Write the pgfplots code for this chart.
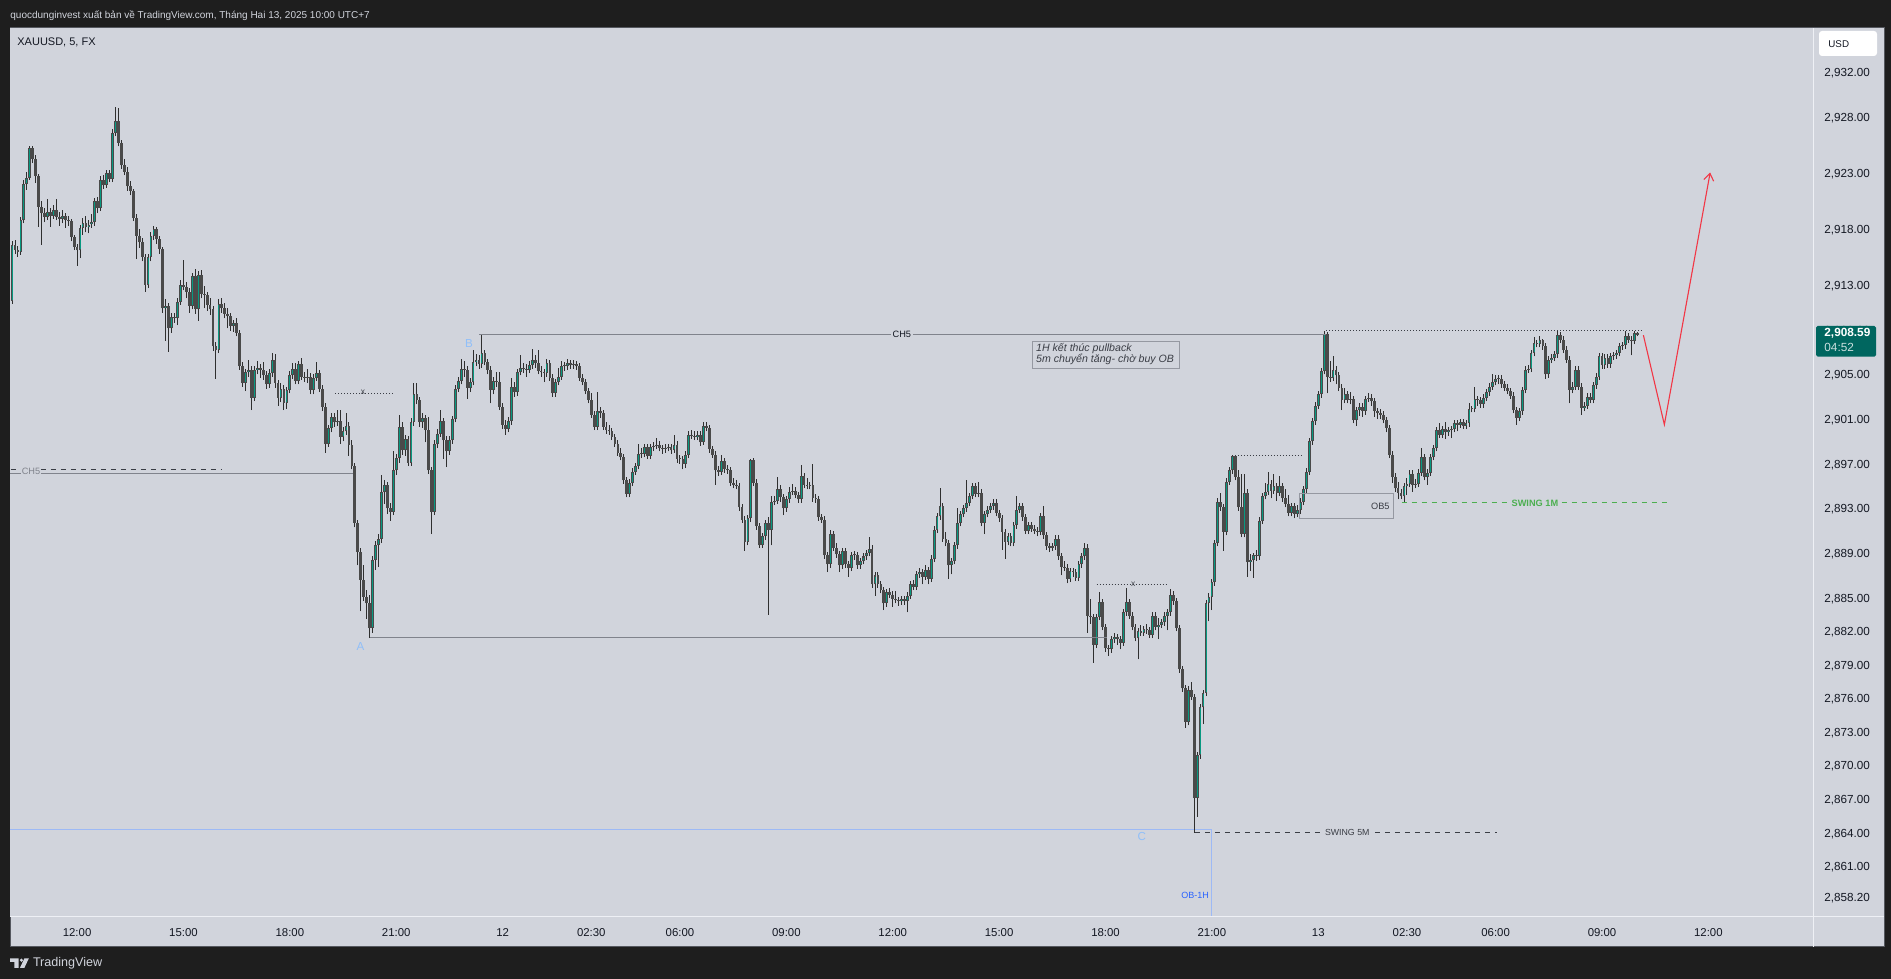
\documentclass[border=0pt]{standalone}
\usepackage{fontspec}
\setmainfont{Liberation Sans}
\usepackage{pgfplots}
\usepackage{pgfplotstable}
\pgfplotsset{compat=1.18}
\usetikzlibrary{arrows.meta}

\definecolor{outerbg}{HTML}{1E1E1E}
\definecolor{panelbg}{HTML}{D1D4DC}
\definecolor{candle}{HTML}{4A4A4A}
\definecolor{wick}{HTML}{2F2F2F}
\definecolor{up}{HTML}{089981}
\definecolor{tvtext}{HTML}{131722}
\definecolor{textdark}{HTML}{3A3D45}
\definecolor{linegray}{HTML}{80838C}
\definecolor{boxgray}{HTML}{9598A1}
\definecolor{lblblue}{HTML}{90BFF9}
\definecolor{obblue}{HTML}{2962FF}
\definecolor{oblines}{HTML}{9DB9F5}
\definecolor{swinggreen}{HTML}{4CAF50}
\definecolor{arrowred}{HTML}{F23645}
\definecolor{pricebox}{HTML}{00665F}
\definecolor{sep}{HTML}{EEF0F5}
\definecolor{frame}{HTML}{55585F}

% XAUUSD 5m candles, first row = bar -22 (about 10:10), bar 0 = 12:00 Feb 11
\pgfplotstableread{
o h l c
2911.7 2917.0 2911.4 2916.7
2916.7 2917.1 2915.9 2916.2
2916.2 2916.6 2915.6 2916.0
2916.0 2919.2 2915.8 2918.9
2918.9 2922.5 2918.6 2922.1
2922.1 2923.2 2921.6 2922.7
2922.7 2925.5 2922.5 2925.3
2925.3 2925.5 2924.0 2924.4
2924.4 2924.7 2922.2 2922.8
2922.8 2923.0 2918.3 2920.1
2920.1 2920.6 2916.7 2919.5
2919.5 2920.0 2918.7 2919.2
2919.2 2920.8 2918.9 2919.6
2919.6 2920.0 2918.3 2919.3
2919.3 2920.2 2919.0 2919.8
2919.8 2920.8 2918.9 2919.2
2919.2 2919.6 2918.4 2919.0
2919.0 2919.8 2918.6 2919.3
2919.3 2919.5 2918.2 2918.9
2918.9 2919.3 2918.4 2918.8
2918.8 2919.0 2917.0 2917.4
2917.4 2917.6 2916.2 2916.5
2916.5 2916.8 2914.8 2916.2
2916.2 2918.5 2915.5 2918.2
2918.2 2919.1 2917.6 2918.6
2918.6 2919.3 2917.8 2918.3
2918.3 2918.9 2917.7 2918.5
2918.5 2919.4 2918.2 2918.7
2918.7 2920.9 2918.4 2920.6
2920.6 2921.0 2919.5 2920.0
2920.0 2922.8 2919.7 2922.5
2922.5 2922.9 2921.7 2922.0
2922.0 2923.4 2921.8 2923.1
2923.1 2923.4 2922.3 2922.6
2922.6 2927.0 2922.3 2926.7
2926.7 2929.0 2926.4 2927.8
2927.8 2928.9 2925.5 2925.8
2925.8 2926.1 2923.5 2923.8
2923.8 2924.4 2922.9 2923.2
2923.2 2923.6 2921.5 2921.9
2921.9 2922.4 2921.1 2921.5
2921.5 2921.7 2918.8 2919.1
2919.1 2919.4 2915.4 2917.5
2917.5 2918.1 2916.4 2916.9
2916.9 2917.3 2915.2 2915.6
2915.6 2915.9 2912.5 2913.1
2913.1 2915.9 2912.8 2915.6
2915.6 2917.8 2915.2 2917.5
2917.5 2918.4 2917.1 2918.1
2918.1 2918.3 2916.8 2917.2
2917.2 2917.5 2915.9 2916.3
2916.3 2916.5 2910.6 2911.0
2911.0 2911.8 2908.1 2911.2
2911.2 2911.5 2907.1 2909.2
2909.2 2910.6 2908.8 2910.2
2910.2 2910.6 2909.7 2910.1
2910.1 2911.9 2909.5 2911.6
2911.6 2913.5 2911.3 2913.1
2913.1 2915.3 2912.6 2912.9
2912.9 2913.4 2911.9 2912.5
2912.5 2912.8 2910.6 2911.2
2911.2 2914.2 2910.9 2913.9
2913.9 2914.5 2910.5 2910.9
2910.9 2914.3 2909.9 2914.0
2914.0 2914.4 2911.9 2912.3
2912.3 2913.0 2911.0 2912.2
2912.2 2912.5 2910.8 2911.3
2911.3 2911.9 2910.4 2910.9
2910.9 2911.2 2907.2 2907.6
2907.6 2908.0 2904.7 2907.3
2907.3 2911.8 2907.0 2911.4
2911.4 2911.9 2910.6 2911.0
2911.0 2911.5 2910.1 2910.5
2910.5 2911.0 2909.2 2910.3
2910.3 2910.6 2909.0 2909.4
2909.4 2910.0 2908.9 2909.7
2909.7 2910.1 2908.5 2908.8
2908.8 2909.1 2905.5 2905.8
2905.8 2906.2 2904.0 2904.3
2904.3 2905.6 2903.6 2905.3
2905.3 2906.4 2904.9 2905.5
2905.5 2905.8 2901.9 2903.0
2903.0 2905.8 2902.7 2905.5
2905.5 2906.3 2905.1 2905.7
2905.7 2906.0 2904.8 2905.5
2905.5 2906.2 2904.6 2905.0
2905.0 2905.4 2903.8 2904.2
2904.2 2905.6 2903.9 2905.2
2905.2 2907.0 2904.9 2906.4
2906.4 2906.9 2903.9 2904.3
2904.3 2904.6 2902.3 2903.0
2903.0 2904.3 2902.6 2903.8
2903.8 2904.1 2901.9 2902.5
2902.5 2904.0 2902.0 2903.7
2903.7 2905.4 2903.4 2905.0
2905.0 2906.1 2904.7 2905.6
2905.6 2906.1 2904.2 2904.5
2904.5 2906.3 2904.2 2906.0
2906.0 2906.6 2904.6 2904.9
2904.9 2905.3 2904.4 2904.8
2904.8 2905.6 2904.3 2904.9
2904.9 2905.2 2903.3 2903.7
2903.7 2905.1 2903.3 2904.8
2904.8 2906.2 2904.5 2905.2
2905.2 2905.5 2903.5 2903.8
2903.8 2904.1 2901.8 2902.2
2902.2 2902.5 2898.1 2898.9
2898.9 2900.6 2898.6 2900.3
2900.3 2901.6 2899.9 2901.3
2901.3 2901.6 2900.4 2900.8
2900.8 2901.9 2900.5 2900.9
2900.9 2901.9 2898.9 2899.5
2899.5 2900.4 2899.1 2900.0
2900.0 2901.6 2899.7 2900.5
2900.5 2900.8 2897.8 2898.8
2898.8 2899.2 2896.6 2896.9
2896.9 2897.2 2891.4 2891.8
2891.8 2892.1 2888.0 2889.2
2889.2 2889.6 2883.9 2886.7
2886.7 2888.0 2884.8 2885.2
2885.2 2885.8 2883.2 2884.6
2884.6 2885.4 2881.5 2882.4
2882.4 2888.8 2882.0 2888.5
2888.5 2890.2 2887.6 2889.8
2889.8 2890.8 2887.9 2890.4
2890.4 2896.1 2890.0 2894.6
2894.6 2895.6 2893.5 2895.2
2895.2 2895.5 2892.6 2893.1
2893.1 2893.6 2892.0 2892.8
2892.8 2898.2 2892.5 2896.5
2896.5 2898.0 2896.1 2897.6
2897.6 2901.5 2897.2 2900.4
2900.4 2900.8 2897.9 2898.3
2898.3 2899.7 2897.8 2899.3
2899.3 2899.6 2896.9 2897.2
2897.2 2901.2 2896.9 2900.8
2900.8 2904.3 2900.5 2903.3
2903.3 2904.3 2902.4 2902.8
2902.8 2903.1 2900.4 2900.8
2900.8 2901.6 2900.3 2901.2
2901.2 2901.5 2899.0 2900.1
2900.1 2901.3 2896.2 2896.5
2896.5 2896.8 2890.8 2892.8
2892.8 2899.2 2892.5 2898.9
2898.9 2900.2 2898.5 2899.8
2899.8 2901.9 2899.5 2900.9
2900.9 2901.2 2897.5 2899.2
2899.2 2899.6 2896.8 2898.2
2898.2 2899.6 2897.9 2899.2
2899.2 2901.4 2898.9 2901.1
2901.1 2904.1 2900.8 2903.8
2903.8 2904.9 2903.5 2904.5
2904.5 2906.5 2904.2 2905.6
2905.6 2906.3 2904.9 2905.5
2905.5 2905.8 2902.9 2903.9
2903.9 2904.8 2903.5 2904.4
2904.4 2907.3 2904.1 2906.2
2906.2 2906.9 2905.8 2906.4
2906.4 2906.8 2905.6 2906.0
2906.0 2908.6 2905.7 2907.0
2907.0 2907.3 2905.9 2906.2
2906.2 2906.5 2905.1 2905.5
2905.5 2905.8 2902.5 2903.7
2903.7 2904.9 2903.3 2904.5
2904.5 2905.3 2904.0 2904.4
2904.4 2905.3 2901.9 2902.2
2902.2 2902.5 2900.2 2900.6
2900.6 2901.0 2899.7 2900.2
2900.2 2901.3 2899.9 2900.9
2900.9 2904.8 2900.6 2904.0
2904.0 2904.4 2903.1 2903.5
2903.5 2905.6 2903.2 2905.3
2905.3 2906.8 2905.0 2905.7
2905.7 2906.1 2905.2 2905.6
2905.6 2906.0 2904.9 2905.5
2905.5 2906.3 2905.2 2905.9
2905.9 2907.4 2905.6 2906.4
2906.4 2906.8 2905.7 2906.1
2906.1 2907.3 2905.1 2905.4
2905.4 2905.8 2904.9 2905.3
2905.3 2905.6 2904.4 2905.2
2905.2 2906.5 2904.9 2906.1
2906.1 2906.4 2904.5 2904.8
2904.8 2905.1 2903.1 2903.4
2903.4 2904.7 2903.1 2904.4
2904.4 2905.7 2904.1 2904.9
2904.9 2906.3 2904.6 2905.8
2905.8 2906.2 2905.4 2905.8
2905.8 2906.5 2905.5 2906.1
2906.1 2906.4 2905.6 2905.9
2905.9 2906.4 2905.6 2906.0
2906.0 2906.3 2905.5 2905.8
2905.8 2906.1 2904.5 2904.8
2904.8 2905.1 2904.1 2904.4
2904.4 2904.7 2903.3 2903.6
2903.6 2903.9 2902.5 2902.8
2902.8 2903.4 2901.2 2901.5
2901.5 2901.8 2900.1 2900.4
2900.4 2903.5 2900.1 2901.8
2901.8 2902.2 2901.2 2901.6
2901.6 2901.9 2900.1 2900.4
2900.4 2900.8 2899.8 2900.1
2900.1 2900.6 2899.7 2900.0
2900.0 2900.3 2899.2 2899.5
2899.5 2899.8 2898.6 2898.9
2898.9 2899.2 2897.8 2898.1
2898.1 2898.5 2897.4 2897.7
2897.7 2898.0 2895.3 2895.6
2895.6 2895.9 2894.1 2894.4
2894.4 2895.7 2894.1 2895.4
2895.4 2896.7 2895.1 2896.4
2896.4 2897.2 2896.1 2896.9
2896.9 2898.9 2896.6 2898.0
2898.0 2898.5 2897.6 2898.0
2898.0 2898.9 2897.7 2898.6
2898.6 2898.9 2897.5 2897.8
2897.8 2898.9 2897.5 2898.6
2898.6 2899.0 2898.2 2898.7
2898.7 2899.4 2898.4 2898.8
2898.8 2899.1 2898.2 2898.5
2898.5 2898.8 2898.0 2898.4
2898.4 2898.9 2898.1 2898.5
2898.5 2898.9 2898.2 2898.6
2898.6 2898.9 2898.0 2898.3
2898.3 2899.7 2898.1 2898.8
2898.8 2899.1 2897.2 2897.5
2897.5 2897.9 2897.1 2897.5
2897.5 2897.8 2896.6 2897.1
2897.1 2898.2 2896.7 2897.9
2897.9 2900.0 2897.6 2899.7
2899.7 2900.1 2899.3 2899.6
2899.6 2900.0 2899.2 2899.5
2899.5 2900.0 2899.2 2899.7
2899.7 2900.0 2898.7 2899.0
2899.0 2900.8 2898.8 2900.5
2900.5 2900.8 2900.0 2900.3
2900.3 2900.6 2898.1 2898.4
2898.4 2898.7 2897.6 2897.9
2897.9 2898.2 2895.2 2896.5
2896.5 2896.9 2896.0 2896.4
2896.4 2897.9 2896.1 2897.3
2897.3 2897.6 2896.3 2896.6
2896.6 2897.0 2896.2 2896.5
2896.5 2896.8 2895.1 2895.4
2895.4 2895.8 2894.9 2895.2
2895.2 2895.6 2894.8 2895.1
2895.1 2895.4 2892.9 2893.2
2893.2 2893.5 2891.8 2892.1
2892.1 2892.4 2889.3 2890.1
2890.1 2892.5 2889.8 2892.2
2892.2 2897.5 2891.9 2897.4
2897.4 2897.6 2895.1 2895.4
2895.4 2895.7 2891.2 2891.5
2891.5 2891.8 2889.6 2889.8
2889.8 2890.9 2889.6 2890.6
2890.6 2892.1 2890.3 2891.8
2891.8 2892.3 2883.6 2891.2
2891.2 2894.2 2889.8 2893.7
2893.7 2894.2 2893.4 2893.8
2893.8 2895.9 2893.5 2894.8
2894.8 2895.2 2893.7 2894.1
2894.1 2894.4 2892.5 2893.1
2893.1 2894.2 2892.8 2893.9
2893.9 2895.0 2893.6 2894.6
2894.6 2895.3 2894.3 2894.7
2894.7 2895.0 2894.0 2894.3
2894.3 2894.6 2893.6 2893.9
2893.9 2897.0 2893.6 2896.0
2896.0 2896.3 2894.9 2895.2
2895.2 2895.8 2894.8 2895.1
2895.1 2895.5 2894.8 2895.2
2895.2 2897.1 2893.7 2894.0
2894.0 2894.4 2893.6 2893.9
2893.9 2894.2 2892.0 2892.3
2892.3 2892.6 2891.8 2892.1
2892.1 2892.4 2888.6 2888.9
2888.9 2889.2 2887.4 2888.1
2888.1 2891.2 2887.8 2890.8
2890.8 2891.1 2889.3 2889.6
2889.6 2890.0 2888.7 2889.0
2889.0 2889.3 2887.4 2888.0
2888.0 2889.6 2887.7 2889.3
2889.3 2889.6 2887.8 2888.1
2888.1 2888.4 2887.0 2887.8
2887.8 2889.2 2887.5 2888.9
2888.9 2889.3 2888.5 2888.9
2888.9 2889.2 2887.7 2888.0
2888.0 2888.7 2887.7 2888.4
2888.4 2889.1 2888.1 2888.8
2888.8 2889.4 2888.5 2889.1
2889.1 2890.5 2888.8 2889.5
2889.5 2889.8 2886.0 2886.3
2886.3 2887.4 2885.3 2887.1
2887.1 2887.4 2886.0 2886.3
2886.3 2886.6 2885.5 2885.8
2885.8 2886.1 2884.0 2884.6
2884.6 2885.9 2884.3 2885.6
2885.6 2886.0 2885.1 2885.4
2885.4 2885.7 2884.3 2885.0
2885.0 2885.7 2884.6 2884.9
2884.9 2885.2 2884.4 2884.8
2884.8 2885.3 2884.5 2885.0
2885.0 2885.3 2884.5 2884.8
2884.8 2885.6 2883.8 2885.3
2885.3 2886.6 2885.0 2886.3
2886.3 2886.7 2885.8 2886.1
2886.1 2887.5 2885.8 2887.2
2887.2 2887.8 2886.9 2887.4
2887.4 2887.7 2886.3 2887.0
2887.0 2888.0 2886.7 2887.6
2887.6 2887.9 2886.3 2886.8
2886.8 2888.9 2886.5 2888.6
2888.6 2891.5 2888.3 2891.2
2891.2 2892.7 2890.9 2892.4
2892.4 2894.9 2892.1 2893.3
2893.3 2893.6 2890.1 2890.4
2890.4 2891.0 2889.7 2890.0
2890.0 2890.3 2886.8 2888.0
2888.0 2888.7 2887.2 2888.4
2888.4 2890.1 2888.1 2889.8
2889.8 2893.1 2889.5 2891.8
2891.8 2892.9 2891.5 2892.6
2892.6 2893.4 2892.3 2893.1
2893.1 2895.6 2892.8 2893.6
2893.6 2894.5 2893.3 2894.2
2894.2 2895.4 2893.9 2895.1
2895.1 2895.4 2894.1 2894.4
2894.4 2895.5 2894.1 2894.5
2894.5 2894.8 2891.5 2891.8
2891.8 2892.9 2890.8 2892.6
2892.6 2893.3 2892.3 2893.0
2893.0 2893.6 2892.7 2893.3
2893.3 2893.9 2893.0 2893.6
2893.6 2893.9 2892.4 2892.7
2892.7 2893.0 2891.9 2892.2
2892.2 2892.5 2889.4 2891.0
2891.0 2891.3 2888.6 2890.1
2890.1 2890.9 2889.8 2890.6
2890.6 2890.9 2889.7 2890.0
2890.0 2891.9 2889.7 2891.6
2891.6 2894.2 2891.3 2893.0
2893.0 2893.6 2892.7 2893.3
2893.3 2893.6 2892.0 2892.3
2892.3 2892.6 2890.8 2891.1
2891.1 2891.9 2890.8 2891.6
2891.6 2891.9 2891.0 2891.3
2891.3 2891.6 2890.8 2891.1
2891.1 2891.4 2890.6 2891.0
2891.0 2892.7 2890.7 2892.4
2892.4 2893.3 2890.4 2890.7
2890.7 2891.0 2889.4 2889.7
2889.7 2890.0 2889.2 2889.6
2889.6 2890.0 2889.3 2889.7
2889.7 2890.7 2889.4 2890.4
2890.4 2890.7 2888.5 2888.8
2888.8 2889.1 2887.1 2887.9
2887.9 2888.4 2887.5 2887.8
2887.8 2888.1 2886.4 2886.8
2886.8 2887.8 2886.5 2887.5
2887.5 2887.8 2887.0 2887.4
2887.4 2887.7 2886.6 2886.9
2886.9 2888.4 2886.6 2888.1
2888.1 2889.1 2887.8 2888.8
2888.8 2890.0 2888.5 2889.6
2889.6 2889.9 2882.0 2883.5
2883.5 2885.0 2882.8 2883.4
2883.4 2883.7 2879.3 2880.9
2880.9 2883.7 2880.6 2883.4
2883.4 2885.6 2883.1 2884.7
2884.7 2885.0 2882.2 2882.5
2882.5 2882.8 2880.3 2880.6
2880.6 2880.9 2879.9 2880.5
2880.5 2881.7 2880.2 2881.4
2881.4 2882.0 2881.1 2881.6
2881.6 2881.9 2880.9 2881.4
2881.4 2881.7 2880.5 2881.1
2881.1 2884.1 2880.8 2883.8
2883.8 2886.0 2883.5 2884.7
2884.7 2885.0 2883.2 2883.5
2883.5 2883.8 2882.2 2882.5
2882.5 2882.8 2881.2 2881.5
2881.5 2882.4 2879.6 2882.1
2882.1 2882.7 2881.7 2882.0
2882.0 2882.6 2881.7 2882.3
2882.3 2882.8 2881.9 2882.2
2882.2 2882.5 2881.5 2881.8
2881.8 2883.8 2881.5 2883.5
2883.5 2883.8 2882.2 2882.5
2882.5 2883.3 2881.4 2882.7
2882.7 2883.2 2882.4 2882.9
2882.9 2883.8 2882.6 2883.5
2883.5 2884.1 2882.2 2883.8
2883.8 2885.9 2883.5 2885.4
2885.4 2885.7 2884.5 2884.8
2884.8 2885.1 2882.1 2882.4
2882.4 2882.7 2878.4 2878.7
2878.7 2879.0 2876.7 2877.0
2877.0 2877.3 2873.5 2874.0
2874.0 2877.2 2873.7 2876.9
2876.9 2877.6 2876.0 2876.2
2876.2 2876.5 2864.1 2867.2
2867.2 2871.3 2865.5 2871.0
2871.0 2875.6 2870.7 2875.3
2875.3 2876.9 2873.8 2876.6
2876.6 2884.9 2876.3 2884.6
2884.6 2885.5 2883.0 2885.2
2885.2 2886.8 2884.0 2886.5
2886.5 2890.3 2886.2 2890.0
2890.0 2894.0 2889.7 2893.7
2893.7 2894.5 2892.9 2893.2
2893.2 2893.5 2889.3 2891.0
2891.0 2895.8 2890.7 2895.5
2895.5 2896.8 2895.2 2896.5
2896.5 2897.9 2896.2 2897.8
2897.8 2897.9 2895.6 2895.9
2895.9 2896.5 2892.9 2893.2
2893.2 2896.2 2890.5 2890.8
2890.8 2896.2 2890.5 2894.5
2894.5 2894.8 2887.0 2888.3
2888.3 2889.0 2887.5 2888.5
2888.5 2889.1 2886.9 2888.9
2888.9 2889.4 2888.4 2888.8
2888.8 2892.3 2888.5 2892.0
2892.0 2894.5 2891.7 2894.2
2894.2 2895.4 2893.9 2894.6
2894.6 2896.4 2894.3 2895.3
2895.3 2895.6 2894.0 2894.7
2894.7 2896.2 2894.4 2895.1
2895.1 2895.4 2893.8 2894.5
2894.5 2896.0 2894.2 2895.1
2895.1 2895.4 2893.7 2894.0
2894.0 2894.8 2893.2 2893.5
2893.5 2894.3 2892.4 2892.7
2892.7 2893.6 2892.4 2893.3
2893.3 2893.6 2892.2 2892.6
2892.6 2893.4 2892.3 2893.0
2893.0 2894.0 2892.6 2893.7
2893.7 2895.1 2893.4 2894.8
2894.8 2896.7 2894.5 2896.4
2896.4 2899.4 2896.1 2899.1
2899.1 2901.2 2898.8 2900.9
2900.9 2902.6 2900.6 2902.3
2902.3 2903.6 2902.0 2903.3
2903.3 2905.7 2903.0 2905.4
2905.4 2909.0 2905.1 2908.7
2908.7 2908.9 2903.4 2904.9
2904.9 2906.3 2904.4 2904.8
2904.8 2906.7 2904.5 2905.5
2905.5 2905.8 2904.2 2905.0
2905.0 2905.3 2903.6 2903.9
2903.9 2904.2 2901.9 2902.8
2902.8 2903.9 2902.5 2903.3
2903.3 2903.6 2902.5 2902.8
2902.8 2903.5 2902.4 2902.9
2902.9 2903.2 2900.7 2901.0
2901.0 2902.2 2900.5 2901.9
2901.9 2902.5 2901.4 2902.2
2902.2 2902.5 2901.3 2901.8
2901.8 2903.2 2901.5 2902.9
2902.9 2903.4 2902.6 2903.0
2903.0 2903.3 2902.3 2902.7
2902.7 2903.0 2901.3 2901.8
2901.8 2902.1 2901.1 2901.6
2901.6 2902.0 2901.1 2901.5
2901.5 2901.8 2900.7 2901.0
2901.0 2901.3 2899.9 2900.3
2900.3 2900.6 2897.6 2897.9
2897.9 2898.2 2895.4 2895.9
2895.9 2896.3 2894.6 2894.9
2894.9 2895.5 2893.9 2894.5
2894.5 2894.8 2893.9 2894.2
2894.2 2895.4 2893.6 2895.1
2895.1 2895.8 2894.3 2895.3
2895.3 2896.5 2895.0 2896.2
2896.2 2896.5 2894.6 2895.2
2895.2 2895.7 2894.9 2895.3
2895.3 2896.6 2895.0 2896.3
2896.3 2898.5 2896.0 2897.7
2897.7 2898.0 2895.6 2895.9
2895.9 2896.6 2895.2 2896.3
2896.3 2898.0 2896.0 2897.7
2897.7 2898.8 2897.4 2898.5
2898.5 2900.4 2898.2 2900.1
2900.1 2900.7 2899.4 2899.7
2899.7 2900.5 2899.4 2900.2
2900.2 2900.8 2899.3 2899.9
2899.9 2900.4 2899.6 2900.1
2900.1 2900.5 2899.4 2900.2
2900.2 2901.0 2899.9 2900.7
2900.7 2901.0 2900.0 2900.6
2900.6 2901.1 2900.3 2900.8
2900.8 2901.1 2900.2 2900.5
2900.5 2901.0 2900.2 2900.7
2900.7 2902.5 2900.4 2902.0
2902.0 2902.3 2901.7 2902.0
2902.0 2904.0 2901.7 2902.9
2902.9 2903.2 2902.3 2902.8
2902.8 2903.1 2902.1 2902.4
2902.4 2903.3 2902.1 2903.0
2903.0 2903.8 2902.7 2903.5
2903.5 2904.3 2903.2 2904.0
2904.0 2905.1 2903.7 2904.4
2904.4 2905.0 2904.1 2904.7
2904.7 2905.0 2904.2 2904.7
2904.7 2905.0 2903.9 2904.2
2904.2 2904.5 2903.6 2903.9
2903.9 2904.2 2903.3 2903.6
2903.6 2903.9 2902.9 2903.2
2903.2 2903.5 2901.6 2901.9
2901.9 2902.2 2900.6 2901.2
2901.2 2902.1 2900.9 2901.8
2901.8 2904.0 2901.5 2903.7
2903.7 2905.8 2903.4 2905.5
2905.5 2905.9 2905.2 2905.6
2905.6 2907.3 2905.3 2907.0
2907.0 2908.4 2906.7 2907.9
2907.9 2908.2 2907.5 2907.8
2907.8 2908.5 2907.5 2908.2
2908.2 2908.3 2907.3 2907.6
2907.6 2907.9 2904.7 2905.1
2905.1 2906.7 2904.8 2906.4
2906.4 2906.9 2906.1 2906.6
2906.6 2907.2 2906.3 2906.9
2906.9 2909.0 2906.6 2908.6
2908.6 2908.9 2907.9 2908.2
2908.2 2908.5 2907.0 2907.3
2907.3 2907.6 2906.1 2906.4
2906.4 2906.7 2902.5 2903.7
2903.7 2904.4 2903.4 2904.0
2904.0 2905.8 2903.7 2905.5
2905.5 2905.8 2903.7 2904.0
2904.0 2904.3 2901.5 2902.1
2902.1 2902.6 2901.8 2902.3
2902.3 2903.4 2902.0 2903.1
2903.1 2903.4 2902.5 2902.8
2902.8 2904.4 2902.5 2904.1
2904.1 2905.2 2903.8 2904.9
2904.9 2907.0 2904.6 2906.7
2906.7 2907.0 2905.6 2905.9
2905.9 2906.9 2905.6 2906.6
2906.6 2906.9 2905.7 2906.0
2906.0 2907.0 2905.7 2906.7
2906.7 2907.1 2906.4 2906.8
2906.8 2907.3 2906.5 2907.0
2907.0 2907.9 2906.7 2907.6
2907.6 2908.0 2907.3 2907.7
2907.7 2909.0 2907.4 2908.5
2908.5 2908.8 2907.9 2908.2
2908.2 2908.5 2906.8 2908.1
2908.1 2909.0 2907.8 2908.8
2908.8 2908.9 2908.5 2908.59
}\xau

\begin{document}
\begin{tikzpicture}
% frame of the TradingView snapshot
\fill[outerbg] (0pt,0pt) rectangle (945.5pt,489.5pt);
\fill[panelbg] (5pt,16pt) rectangle (942pt,475.5pt);
\draw[frame, line width=0.5pt] (5pt,16pt) rectangle (942pt,475.5pt);

\begin{axis}[
  at={(5pt,31pt)}, anchor=south west,
  scale only axis, width=901.5pt, height=444.5pt,
  xmin=-22.7, xmax=587.4, ymin=2856.55, ymax=2936.08,
  axis background/.style={fill=panelbg},
  axis line style={draw=none},
  tick style={draw=none}, major tick length=0pt,
  xtick={0,36,72,108,144,174,204,240,276,312,348,384,420,450,480,516,552},
  xticklabels={12:00,15:00,18:00,21:00,12,02:30,06:00,09:00,12:00,15:00,18:00,21:00,13,02:30,06:00,09:00,12:00},
  xticklabel style={font=\fontsize{5.7}{6}\selectfont, text=tvtext, anchor=center, inner sep=0pt, yshift=-8pt},
  ytick={2858.2,2861,2864,2867,2870,2873,2876,2879,2882,2885,2889,2893,2897,2901,2905,2909,2913,2918,2923,2928,2932},
  yticklabels={{2,858.20},{2,861.00},{2,864.00},{2,867.00},{2,870.00},{2,873.00},{2,876.00},{2,879.00},{2,882.00},{2,885.00},{2,889.00},{2,893.00},{2,897.00},{2,901.00},{2,905.00},{2,909.00},{2,913.00},{2,918.00},{2,923.00},{2,928.00},{2,932.00}},
  yticklabel pos=right,
  yticklabel style={font=\fontsize{5.85}{6}\selectfont, text=tvtext, anchor=west, inner sep=0pt, xshift=5.5pt},
]

% OB-1H zone (behind the candles)
\draw[oblines, line width=0.5pt] (axis cs:-22.7,2864.38) -- (axis cs:384,2864.38) -- (axis cs:384,2856.55);

% wicks
\addplot[draw=none, mark=none, forget plot,
  error bars/.cd, y dir=plus, y explicit, error mark=none,
  error bar style={line width=0.5pt, draw=wick, solid}]
  table[x expr=\coordindex-22, y=l, y error expr=\thisrow{h}-\thisrow{l}] {\xau};
% bodies
\addplot[draw=none, mark=none, forget plot,
  error bars/.cd, y dir=plus, y explicit, error mark=none,
  error bar style={line width=1.4pt, draw=candle, solid}]
  table[x expr=\coordindex-22, y expr={min(\thisrow{o},\thisrow{c})},
        y error expr={max(abs(\thisrow{c}-\thisrow{o}),0.09)}] {\xau};
% teal fill of rising candles
\addplot[draw=none, mark=none, forget plot,
  error bars/.cd, y dir=plus, y explicit, error mark=none,
  error bar style={line width=0.5pt, draw=up, solid}]
  table[x expr=\coordindex-22, y expr=\thisrow{o}+0.09,
        y error expr={max(\thisrow{c}-\thisrow{o}-0.18,0)}] {\xau};

% CH5 on the left
\draw[linegray, line width=0.5pt] (axis cs:-22.7,2896.25) -- (axis cs:93.2,2896.25);
\draw[textdark, line width=0.45pt, dash pattern=on 2.5pt off 2.5pt] (axis cs:-22.4,2896.6) -- (axis cs:49.2,2896.6);
\node[fill=panelbg, inner sep=0.6pt, text=linegray, font=\fontsize{4.6}{5}\selectfont] at (axis cs:-15.6,2896.42) {CH5};

% small x line near 20:00
\draw[textdark, line width=0.4pt, dash pattern=on 0.5pt off 1pt] (axis cs:87.3,2903.4) -- (axis cs:107,2903.4);
\node[text=textdark, font=\fontsize{4.2}{5}\selectfont, inner sep=0pt] at (axis cs:96.7,2903.45) {x};

% B line / CH5
\draw[linegray, line width=0.5pt] (axis cs:136,2908.68) -- (axis cs:422.6,2908.68);
\node[fill=panelbg, inner sep=0.8pt, text=tvtext, font=\fontsize{4.6}{5}\selectfont] at (axis cs:279.1,2908.68) {CH5};
\node[text=lblblue, font=\fontsize{5.8}{6}\selectfont] at (axis cs:132.6,2907.84) {B};

% A line
\draw[linegray, line width=0.5pt] (axis cs:99.1,2881.55) -- (axis cs:348.5,2881.55);
\node[text=lblblue, font=\fontsize{5.8}{6}\selectfont] at (axis cs:95.9,2880.77) {A};

% note box
\draw[boxgray, line width=0.5pt] (axis cs:323.2,2908.05) rectangle (axis cs:373,2905.65);
\node[anchor=west, inner sep=0pt, text=textdark, font=\itshape\fontsize{5.3}{6}\selectfont] at (axis cs:324.4,2907.38) {1H kết thúc pullback};
\node[anchor=west, inner sep=0pt, text=textdark, font=\itshape\fontsize{5.3}{6}\selectfont] at (axis cs:324.4,2906.42) {5m chuyển tăng- chờ buy OB};

% x line near 18:30
\draw[textdark, line width=0.4pt, dash pattern=on 0.5pt off 1pt] (axis cs:345,2886.3) -- (axis cs:369.2,2886.3);
\node[text=textdark, font=\fontsize{4.2}{5}\selectfont, inner sep=0pt] at (axis cs:357.4,2886.35) {x};

% C, OB-1H, swing 5m
\node[text=lblblue, font=\fontsize{5.8}{6}\selectfont] at (axis cs:360.3,2863.72) {C};
\node[text=obblue, font=\fontsize{4.5}{5}\selectfont] at (axis cs:378.3,2858.5) {OB-1H};
\draw[textdark, line width=0.45pt, dash pattern=on 2.5pt off 2.5pt] (axis cs:378.4,2864.1) -- (axis cs:480.4,2864.1);
\node[fill=panelbg, inner sep=1pt, text=textdark, font=\fontsize{4.4}{5}\selectfont] at (axis cs:429.8,2864.1) {SWING 5M};

% dotted line above the 21:00 rally
\draw[textdark, line width=0.4pt, dash pattern=on 0.5pt off 1pt] (axis cs:391.8,2897.85) -- (axis cs:414.8,2897.85);

% OB5 box
\draw[boxgray, line width=0.5pt] (axis cs:413.8,2894.46) rectangle (axis cs:445.4,2892.16);
\node[text=textdark, font=\fontsize{4.6}{5}\selectfont] at (axis cs:441,2893.26) {OB5};

% swing 1m
\draw[swinggreen, line width=0.55pt, dash pattern=on 2.5pt off 2.5pt] (axis cs:448.2,2893.6) -- (axis cs:538.5,2893.6);
\node[fill=panelbg, inner sep=1pt, text=swinggreen, font=\bfseries\fontsize{4.6}{5}\selectfont] at (axis cs:493.3,2893.6) {SWING 1M};

% top dotted line
\draw[textdark, line width=0.4pt, dash pattern=on 0.5pt off 1pt] (axis cs:422.7,2909.0) -- (axis cs:529.9,2909.0);

% projected path
\draw[arrowred, line width=0.55pt, -{Straight Barb[length=3.5pt,width=5pt]}]
  (axis cs:530,2908.6) -- (axis cs:537.1,2900.6) -- (axis cs:552.6,2923.15);
\end{axis}

% scale separators
\draw[sep, line width=0.5pt] (906.5pt,16pt) -- (906.5pt,475.5pt);
\draw[sep, line width=0.5pt] (5pt,31pt) -- (942pt,31pt);

% USD box
\fill[white, rounded corners=1.5pt] (909.5pt,461.5pt) rectangle (938.5pt,474pt);
\node[anchor=west, inner sep=0pt, text=tvtext, font=\fontsize{4.9}{5}\selectfont] at (914pt,467.6pt) {USD};

% last price tag
\fill[pricebox, rounded corners=0.8pt] (908pt,311.2pt) rectangle (938pt,326.5pt);
\node[anchor=west, inner sep=0pt, text=white, font=\bfseries\fontsize{5.9}{6}\selectfont] at (912pt,322.6pt) {2,908.59};
\node[anchor=west, inner sep=0pt, text=white!80!pricebox, font=\fontsize{5.9}{6}\selectfont] at (912pt,315.6pt) {04:52};

% header
\node[anchor=west, inner sep=0pt, text=panelbg, font=\fontsize{5}{6}\selectfont] at (5pt,481.7pt)
  {quocdunginvest xuất bản về TradingView.com, Tháng Hai 13, 2025 10:00 UTC+7};
\node[anchor=west, inner sep=0pt, text=tvtext, font=\fontsize{5.5}{6}\selectfont] at (8.5pt,468.3pt) {XAUUSD, 5, FX};

% footer logo
\fill[panelbg] (5pt,10.3pt) -- (9.3pt,10.3pt) -- (9.3pt,5.6pt) -- (7.2pt,5.6pt) -- (7.2pt,8.5pt) -- (5pt,8.5pt) -- cycle;
\fill[panelbg] (10.7pt,9.4pt) circle (0.85pt);
\fill[panelbg] (12.2pt,10.3pt) -- (14.4pt,10.3pt) -- (12.2pt,5.6pt) -- (10pt,5.6pt) -- cycle;
\node[anchor=west, inner sep=0pt, text=panelbg, font=\fontsize{6.3}{7}\selectfont] at (16.3pt,8pt) {TradingView};

\pgfresetboundingbox
\path (0pt,0pt) rectangle (945.5pt,489.5pt);
\end{tikzpicture}
\end{document}
